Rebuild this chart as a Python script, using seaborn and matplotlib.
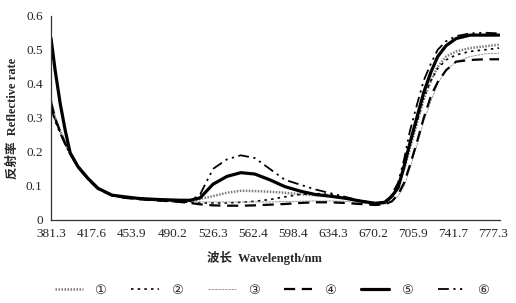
import numpy as np
import pandas as pd
import matplotlib
matplotlib.use("Agg")
import matplotlib.pyplot as plt
from matplotlib.lines import Line2D
import seaborn as sns

# ---------------- data ----------------
wavelength = [381.3, 385, 389.5, 394, 398.5, 405.5, 414.5, 423.5, 436, 447.5, 461, 479,
              497, 506, 515, 526.5, 539, 551.5, 564, 577.5, 591, 604.5, 618, 631.5, 645,
              658, 672, 680.5, 687, 692.5, 698, 703, 709.5, 715.5, 722, 728, 735.5, 744.5,
              757, 770.5, 783]

s1 = [0.35, 0.30, 0.262, 0.226, 0.196, 0.156, 0.121, 0.092, 0.073, 0.066, 0.062, 0.058,
      0.055, 0.055, 0.062, 0.070, 0.080, 0.086, 0.085, 0.083, 0.080, 0.076, 0.073, 0.070, 0.064,
      0.055, 0.048, 0.050, 0.068, 0.095, 0.150, 0.210, 0.285, 0.355, 0.410, 0.450, 0.480, 0.495,
      0.505, 0.510, 0.515]
s2 = [0.34, 0.295, 0.258, 0.224, 0.195, 0.155, 0.120, 0.092, 0.072, 0.066, 0.061, 0.057,
      0.053, 0.052, 0.050, 0.050, 0.050, 0.052, 0.055, 0.060, 0.068, 0.075, 0.078, 0.075, 0.066,
      0.056, 0.048, 0.050, 0.068, 0.100, 0.155, 0.220, 0.290, 0.360, 0.410, 0.445, 0.470, 0.485,
      0.495, 0.500, 0.505]
s3 = [0.36, 0.305, 0.265, 0.228, 0.197, 0.157, 0.122, 0.093, 0.073, 0.066, 0.062, 0.058,
      0.055, 0.054, 0.053, 0.053, 0.053, 0.053, 0.053, 0.053, 0.054, 0.055, 0.056, 0.056, 0.055,
      0.050, 0.046, 0.046, 0.055, 0.070, 0.100, 0.150, 0.220, 0.290, 0.350, 0.400, 0.440, 0.465,
      0.480, 0.488, 0.490]
s4 = [0.345, 0.298, 0.26, 0.225, 0.195, 0.155, 0.120, 0.091, 0.072, 0.065, 0.061, 0.057,
      0.053, 0.050, 0.046, 0.043, 0.042, 0.042, 0.043, 0.045, 0.047, 0.050, 0.052, 0.052, 0.050,
      0.047, 0.044, 0.046, 0.055, 0.075, 0.110, 0.160, 0.230, 0.300, 0.365, 0.405, 0.440, 0.465,
      0.470, 0.472, 0.472]
s5 = [0.534, 0.44, 0.343, 0.264, 0.197, 0.157, 0.122, 0.093, 0.073, 0.068, 0.063, 0.060,
      0.058, 0.058, 0.065, 0.105, 0.128, 0.139, 0.135, 0.118, 0.098, 0.085, 0.075, 0.070, 0.064,
      0.056, 0.049, 0.052, 0.070, 0.095, 0.160, 0.225, 0.303, 0.375, 0.435, 0.480, 0.512, 0.533,
      0.543, 0.543, 0.543]
s6 = [0.33, 0.29, 0.255, 0.222, 0.194, 0.155, 0.120, 0.091, 0.072, 0.066, 0.061, 0.057,
      0.055, 0.056, 0.075, 0.150, 0.178, 0.190, 0.182, 0.150, 0.118, 0.104, 0.090, 0.079, 0.068,
      0.057, 0.050, 0.052, 0.075, 0.110, 0.180, 0.260, 0.340, 0.410, 0.460, 0.500, 0.525, 0.540,
      0.548, 0.550, 0.548]

series_labels = ["①", "②", "③", "④", "⑤", "⑥"]
xtick_labels = ["381.3", "417.6", "453.9", "490.2", "526.3", "562.4", "598.4",
                "634.3", "670.2", "705.9", "741.7", "777.3"]

# ---------------- styling ----------------
styles = [
    dict(color="#7a7a7a", lw=1.8, ls=(0, (0.6, 0.6))),
    dict(color="black", lw=1.2, ls=(0, (1.5, 2.5))),
    dict(color="#8a8a8a", lw=0.6, ls=(0, (3, 1))),
    dict(color="black", lw=1.6, ls=(0, (5, 3))),
    dict(color="black", lw=2.3, ls="-"),
    dict(color="black", lw=1.3, ls=(0, (6, 2.5, 1.2, 2.5, 1.2, 2.5))),
]

sns.set_style("white")
plt.rcParams["font.family"] = ["Liberation Serif", "Noto Sans CJK SC", "DejaVu Sans"]

fig = plt.figure(figsize=(5.16, 3.03), dpi=100)
ax = fig.add_axes([51 / 516, 1 - 220 / 303, (500 - 51) / 516, (220 - 15.7) / 303])

all_series = [s1, s2, s3, s4, s5, s6]
handles = []
for lab, vals, st in zip(series_labels, all_series, styles):
    df = pd.DataFrame({"w": wavelength, "r": vals})
    sns.lineplot(data=df, x="w", y="r", ax=ax, color=st["color"], linewidth=st["lw"],
                 linestyle=st["ls"], legend=False)
    handles.append(Line2D([], [], color=st["color"], lw=st["lw"], ls=st["ls"]))

ax.set_xlim(381.3, 783.85)
ax.set_ylim(0, 0.6)
ax.set_yticks([0, 0.1, 0.2, 0.3, 0.4, 0.5, 0.6])
ax.set_yticklabels(["0", "0.1", "0.2", "0.3", "0.4", "0.5", "0.6"])
xt = [float(v) for v in xtick_labels]
ax.set_xticks(xt)
ax.set_xticklabels(xtick_labels)
ax.set_xticks([381.3 + k * 39.15 for k in range(11)], minor=True)
ax.tick_params(axis="x", which="major", length=0, pad=6, labelsize=9.5)
ax.tick_params(axis="x", which="minor", direction="in", length=3.5, width=0.8, color="black")
ax.tick_params(axis="y", direction="in", length=3.5, width=0.8, pad=6, labelsize=9.5)
for side in ["top", "right"]:
    ax.spines[side].set_visible(False)
for side in ["left", "bottom"]:
    ax.spines[side].set_color("#333333")
    ax.spines[side].set_linewidth(0.9)

ax.set_xlabel("")
ax.set_ylabel("")
fig.text(0.513, 1 - 258 / 303, "波长  Wavelength/nm", ha="center", va="center",
         fontsize=9, fontweight="bold")
fig.text(0.024, 1 - 118 / 303, "反射率  Reflective rate", ha="center", va="center",
         rotation=90, fontsize=9, fontweight="bold")

fig.legend(handles, series_labels, ncol=6, loc="center", bbox_to_anchor=(0.527, 1 - 290 / 303),
           frameon=False, handlelength=2.1, handletextpad=0.9, columnspacing=1.9,
           prop={"size": 9.5, "family": ["DejaVu Sans"]})

fig.savefig("out.png", dpi=100)
